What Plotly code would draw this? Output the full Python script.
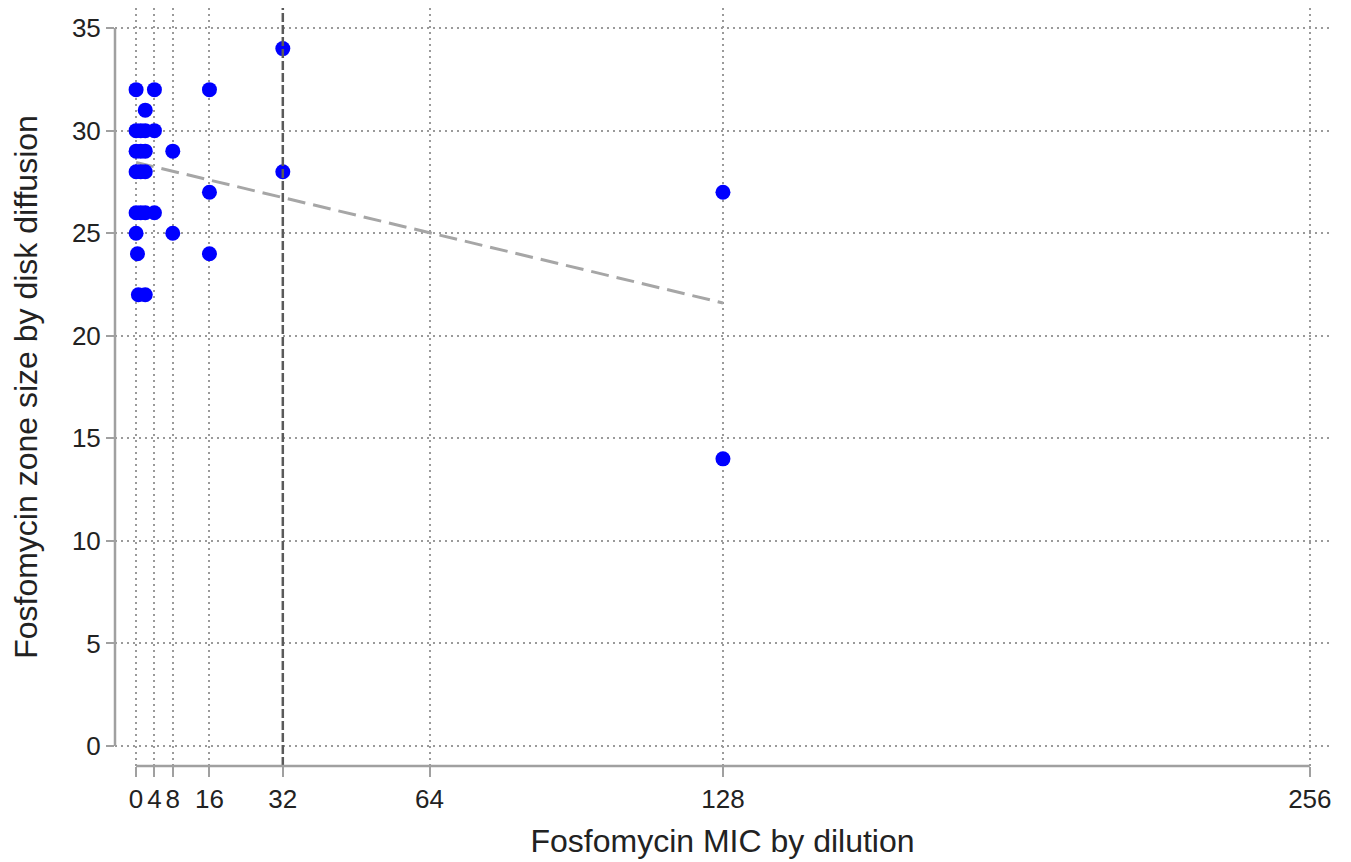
import plotly.graph_objects as go

# Data
mic = [0, 4, 16,
       2,
       0, 1, 2, 4,
       0, 1, 2, 8,
       0, 1, 2, 32,
       0, 1, 2, 4,
       0, 8,
       0.3, 16,
       0.5, 2,
       16, 128, 128, 32]
zone = [32, 32, 32,
        31,
        30, 30, 30, 30,
        29, 29, 29, 29,
        28, 28, 28, 28,
        26, 26, 26, 26,
        25, 25,
        24, 24,
        22, 22,
        27, 27, 14, 34]

fit_x = [0, 128]
fit_y = [28.45, 21.6]

breakpoint_x = 32

x_ticks = [0, 4, 8, 16, 32, 64, 128, 256]
y_ticks = [0, 5, 10, 15, 20, 25, 30, 35]

FONT = "Liberation Sans, Arial, sans-serif"
AXIS_COL = "#a0a0a0"
GRID_COL = "#9a9a9a"

fig = go.Figure()
fig.add_trace(go.Scatter(x=fit_x, y=fit_y, mode="lines",
                         line=dict(color="#a6a6a6", width=3, dash="18px,8px"),
                         hoverinfo="skip", showlegend=False))
fig.add_trace(go.Scatter(x=mic, y=zone, mode="markers",
                         marker=dict(color="#0000ff", size=15, line=dict(width=0)),
                         showlegend=False))

# vertical reference line at breakpoint
fig.add_shape(type="line", xref="x", yref="paper", x0=breakpoint_x, x1=breakpoint_x,
              y0=0, y1=1, line=dict(color="#5a5a5a", width=2.5, dash="9px,3px"))
# Stata-style axis lines spanning tick range
fig.add_shape(type="line", xref="paper", yref="y", x0=0, x1=0, y0=0, y1=35,
              line=dict(color=AXIS_COL, width=2.5))
fig.add_shape(type="line", xref="x", yref="paper", x0=0, x1=256, y0=0, y1=0,
              line=dict(color=AXIS_COL, width=2.5))

fig.update_layout(
    width=1351, height=862,
    margin=dict(l=107, r=29, t=0, b=104, autoexpand=False),
    plot_bgcolor="white", paper_bgcolor="white",
    font=dict(family=FONT, size=26, color="#222"),
    xaxis=dict(range=[-4.6, 260.4], tickmode="array", tickvals=x_ticks,
               ticktext=[str(v) for v in x_ticks], automargin=False,
               showline=False, zeroline=False,
               showgrid=True, gridcolor=GRID_COL, gridwidth=1.5, griddash="1.5px,4.5px",
               ticks="outside", ticklen=10, tickwidth=2, tickcolor=AXIS_COL,
               tickfont=dict(size=26, color="#222"),
               title=dict(text="Fosfomycin MIC by dilution", font=dict(size=32, color="#222"),
                          standoff=16)),
    yaxis=dict(range=[-0.975, 35.98], tickmode="array", tickvals=y_ticks,
               automargin=False,
               showline=False, zeroline=False,
               showgrid=True, gridcolor=GRID_COL, gridwidth=1.5, griddash="1.5px,4.5px",
               ticks="outside", ticklen=8, tickwidth=2, tickcolor=AXIS_COL,
               tickfont=dict(size=26, color="#222"),
               title=dict(text="Fosfomycin zone size by disk diffusion",
                          font=dict(size=32, color="#222"), standoff=28)),
)

fig.write_html("out.html")
